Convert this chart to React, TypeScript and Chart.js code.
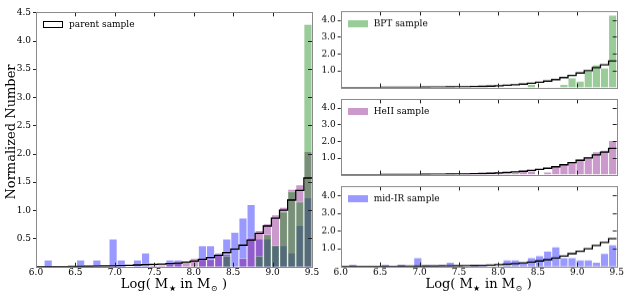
import React, { useEffect, useRef } from 'react';
import { Chart, registerables } from 'chart.js';

Chart.register(...registerables);

// ---- data (normalized histograms, 34 equal bins between 6.0 and 9.5) ----
const X_MIN = 6.0;
const X_MAX = 9.5;
const BIN_COUNT = 34;

const parentSample = [
  0, 0, 0, 0.002, 0.004, 0.006, 0.008, 0.01, 0.012, 0.015,
  0.02, 0.025, 0.03, 0.035, 0.04, 0.045, 0.055, 0.065, 0.08, 0.1,
  0.13, 0.16, 0.2, 0.25, 0.31, 0.38, 0.47, 0.59, 0.72, 0.86,
  1.0, 1.18, 1.35, 1.57,
];
const bptSample = [
  0, 0, 0, 0, 0, 0, 0, 0, 0, 0,
  0, 0, 0, 0, 0, 0, 0, 0, 0, 0,
  0, 0, 0, 0.19, 0, 0, 0, 0.19, 0.57, 0.38,
  0.97, 1.33, 1.15, 4.29,
];
const heiiSample = [
  0, 0, 0, 0, 0, 0, 0, 0, 0, 0,
  0, 0, 0, 0, 0.03, 0.03, 0.05, 0.08, 0.08, 0.15,
  0.13, 0.13, 0.22, 0.22, 0, 0.15, 0.51, 0.64, 0.76, 0.92,
  1.05, 1.37, 1.45, 2.04,
];
const midirSample = [
  0, 0.12, 0, 0, 0, 0.12, 0, 0.12, 0, 0.49,
  0.12, 0, 0.12, 0.24, 0, 0, 0.12, 0.12, 0, 0,
  0.37, 0.37, 0.24, 0.49, 0.61, 0.86, 1.1, 0.49, 0.49, 0.37,
  0.37, 0.24, 0.73, 1.22,
];
const xTicks = [6.0, 6.5, 7.0, 7.5, 8.0, 8.5, 9.0, 9.5];
const leftYTicks = [0.5, 1.0, 1.5, 2.0, 2.5, 3.0, 3.5, 4.0, 4.5];
const rightYTicks = [1.0, 2.0, 3.0, 4.0];

const GREEN = 'rgba(0,128,0,0.4)';
const PURPLE = 'rgba(128,0,128,0.4)';
const BLUE = 'rgba(0,0,255,0.4)';
const FONT = "'DejaVu Serif', 'Liberation Serif', serif";

const binWidth = (X_MAX - X_MIN) / BIN_COUNT;
const binEdges = Array.from({ length: BIN_COUNT + 1 }, (_, i) => X_MIN + i * binWidth);
const binCenters = binEdges.slice(0, BIN_COUNT).map((e) => e + binWidth / 2);

type Series = { label: string; values: number[]; color: string; order: number };
type LegendSpec = { text: string; fill: string | null };

type PanelProps = {
  areaLeft: number;
  areaTop: number;
  areaRight: number;
  areaBottom: number;
  yAxisW: number;
  xAxisH: number;
  yTicks: number[];
  series: Series[];
  legend: LegendSpec;
  showXLabels: boolean;
  xTitle: boolean;
  yTitle: boolean;
};

const PAD_TOP = 8;
const PAD_RIGHT = 14;

function Panel(p: PanelProps) {
  const ref = useRef<HTMLCanvasElement>(null);
  const canvasLeft = p.areaLeft - p.yAxisW;
  const canvasTop = p.areaTop - PAD_TOP;
  const width = Math.round(p.areaRight + PAD_RIGHT - canvasLeft);
  const height = p.areaBottom + p.xAxisH - canvasTop;
  const padRight = width - (p.areaRight - canvasLeft);

  useEffect(() => {
    const canvas = ref.current;
    if (!canvas) return;

    const datasets: any[] = p.series.map((s) => ({
      type: 'bar',
      label: s.label,
      data: s.values.map((v, i) => ({ x: binCenters[i], y: v })),
      backgroundColor: s.color,
      borderColor: 'rgba(255,255,255,0.35)',
      borderWidth: 0.8,
      borderSkipped: 'start',
      barPercentage: 1,
      categoryPercentage: 1,
      grouped: false,
      order: s.order,
    }));
    const parentPoints = parentSample.map((v, i) => ({ x: binEdges[i], y: v }));
    parentPoints.push({ x: X_MAX, y: parentSample[BIN_COUNT - 1] });
    datasets.push({
      type: 'line',
      label: 'parent sample',
      data: parentPoints,
      borderColor: '#000',
      borderWidth: 1.3,
      stepped: true,
      pointRadius: 0,
      fill: false,
      order: 0,
    });

    const decor = {
      id: 'decor',
      afterDatasetsDraw(chart: any) {
        const { ctx, chartArea: a, scales } = chart;
        const xs = scales.x;
        const ys = scales.y;
        ctx.save();
        ctx.lineWidth = 1;
        ctx.strokeStyle = '#222';
        ctx.beginPath();
        for (const t of xs.ticks) {
          const px = Math.round(xs.getPixelForValue(t.value)) + 0.5;
          ctx.moveTo(px, a.bottom);
          ctx.lineTo(px, a.bottom - 4);
          ctx.moveTo(px, a.top);
          ctx.lineTo(px, a.top + 4);
        }
        for (const t of ys.ticks) {
          const py = Math.round(ys.getPixelForValue(t.value)) + 0.5;
          ctx.moveTo(a.left - 3, py);
          ctx.lineTo(a.left, py);
          ctx.moveTo(a.right - 4, py);
          ctx.lineTo(a.right, py);
        }
        ctx.stroke();
        ctx.strokeStyle = '#8a8a8a';
        ctx.strokeRect(
          Math.round(a.left) + 0.5,
          Math.round(a.top) + 0.5,
          Math.round(a.right) - Math.round(a.left),
          Math.round(a.bottom) - Math.round(a.top)
        );
        ctx.restore();
      },
      afterDraw(chart: any) {
        const { ctx, chartArea: a } = chart;
        ctx.save();
        // legend
        const bx = Math.round(a.left + 7) + 0.5;
        const by = Math.round(a.top + 9) + 0.5;
        if (p.legend.fill) {
          ctx.fillStyle = p.legend.fill;
          ctx.fillRect(bx - 0.5, by - 0.5, 20, 7);
        } else {
          ctx.strokeStyle = '#000';
          ctx.lineWidth = 1;
          ctx.strokeRect(bx, by, 19, 6);
        }
        ctx.fillStyle = '#000';
        ctx.font = `9px ${FONT}`;
        ctx.textBaseline = 'middle';
        ctx.textAlign = 'left';
        ctx.fillText(p.legend.text, a.left + 33, by + 3.5);

        // x title: Log( M_star in M_sun )
        if (p.xTitle) {
          const big = `13px ${FONT}`;
          const small = `8px ${FONT}`;
          const parts: [string, boolean][] = [
            ['Log( M', false],
            ['\u2605', true],
            [' in M', false],
            ['\u2299', true],
            [' )', false],
          ];
          let total = 0;
          for (const [txt, sub] of parts) {
            ctx.font = sub ? small : big;
            total += ctx.measureText(txt).width + (sub ? 1 : 0);
          }
          let x = (a.left + a.right) / 2 - total / 2;
          const base = a.bottom + 21;
          ctx.textBaseline = 'alphabetic';
          for (const [txt, sub] of parts) {
            ctx.font = sub ? small : big;
            ctx.fillText(txt, x + (sub ? 0.5 : 0), sub ? base + 3 : base);
            x += ctx.measureText(txt).width + (sub ? 1 : 0);
          }
        }
        // y title
        if (p.yTitle) {
          ctx.save();
          ctx.translate(12, 130);
          ctx.rotate(-Math.PI / 2);
          ctx.font = `13px ${FONT}`;
          ctx.textAlign = 'center';
          ctx.textBaseline = 'middle';
          ctx.fillText('Normalized Number', 0, 0);
          ctx.restore();
        }
        ctx.restore();
      },
    };

    const chart = new Chart(canvas, {
      type: 'bar',
      data: { datasets },
      options: {
        responsive: false,
        maintainAspectRatio: false,
        animation: false,
        devicePixelRatio: 1,
        layout: { padding: { left: 0, top: PAD_TOP, right: padRight, bottom: 0 } },
        plugins: { legend: { display: false }, tooltip: { enabled: false } },
        scales: {
          x: {
            type: 'linear',
            min: X_MIN,
            max: X_MAX,
            offset: false,
            grid: { display: false, drawTicks: false },
            border: { display: false },
            afterBuildTicks: (s: any) => {
              s.ticks = xTicks.map((v) => ({ value: v }));
            },
            afterFit: (s: any) => {
              s.height = p.xAxisH;
            },
            ticks: {
              display: p.showXLabels,
              autoSkip: false,
              maxRotation: 0,
              padding: 1,
              color: '#000',
              font: { family: FONT, size: 9 },
              callback: (v: any) => Number(v).toFixed(1),
            },
          },
          y: {
            type: 'linear',
            min: 0,
            max: 4.5,
            grid: { display: false, drawTicks: false },
            border: { display: false },
            afterBuildTicks: (s: any) => {
              s.ticks = p.yTicks.map((v) => ({ value: v }));
            },
            afterFit: (s: any) => {
              s.width = p.yAxisW;
            },
            ticks: {
              padding: 5,
              color: '#000',
              font: { family: FONT, size: 9 },
              callback: (v: any) => Number(v).toFixed(1),
            },
          },
        },
      } as any,
      plugins: [decor],
    });
    return () => chart.destroy();
  }, []);

  return (
    <canvas
      ref={ref}
      width={width}
      height={height}
      style={{ position: 'absolute', left: canvasLeft, top: canvasTop, width, height }}
    />
  );
}

export default function App() {
  const all: Series[] = [
    { label: 'BPT sample', values: bptSample, color: GREEN, order: 1 },
    { label: 'HeII sample', values: heiiSample, color: PURPLE, order: 2 },
    { label: 'mid-IR sample', values: midirSample, color: BLUE, order: 3 },
  ];
  return (
    <div
      style={{
        position: 'absolute',
        left: 0,
        top: 0,
        width: 630,
        height: 300,
        background: '#fff',
        overflow: 'hidden',
      }}
    >
      <Panel
        areaLeft={36}
        areaTop={9.5}
        areaRight={312}
        areaBottom={266.7}
        yAxisW={36}
        xAxisH={33.3}
        yTicks={leftYTicks}
        series={all}
        legend={{ text: 'parent sample', fill: null }}
        showXLabels={true}
        xTitle={true}
        yTitle={true}
      />
      <Panel
        areaLeft={340.7}
        areaTop={9.3}
        areaRight={616.7}
        areaBottom={91.7}
        yAxisW={20.7}
        xAxisH={6}
        yTicks={rightYTicks}
        series={[all[0]]}
        legend={{ text: 'BPT sample', fill: GREEN }}
        showXLabels={false}
        xTitle={false}
        yTitle={false}
      />
      <Panel
        areaLeft={340.7}
        areaTop={96.9}
        areaRight={616.7}
        areaBottom={179.3}
        yAxisW={20.7}
        xAxisH={6}
        yTicks={rightYTicks}
        series={[all[1]]}
        legend={{ text: 'HeII sample', fill: PURPLE }}
        showXLabels={false}
        xTitle={false}
        yTitle={false}
      />
      <Panel
        areaLeft={340.7}
        areaTop={184.3}
        areaRight={616.7}
        areaBottom={266.7}
        yAxisW={20.7}
        xAxisH={33.3}
        yTicks={rightYTicks}
        series={[all[2]]}
        legend={{ text: 'mid-IR sample', fill: BLUE }}
        showXLabels={true}
        xTitle={true}
        yTitle={false}
      />
    </div>
  );
}
